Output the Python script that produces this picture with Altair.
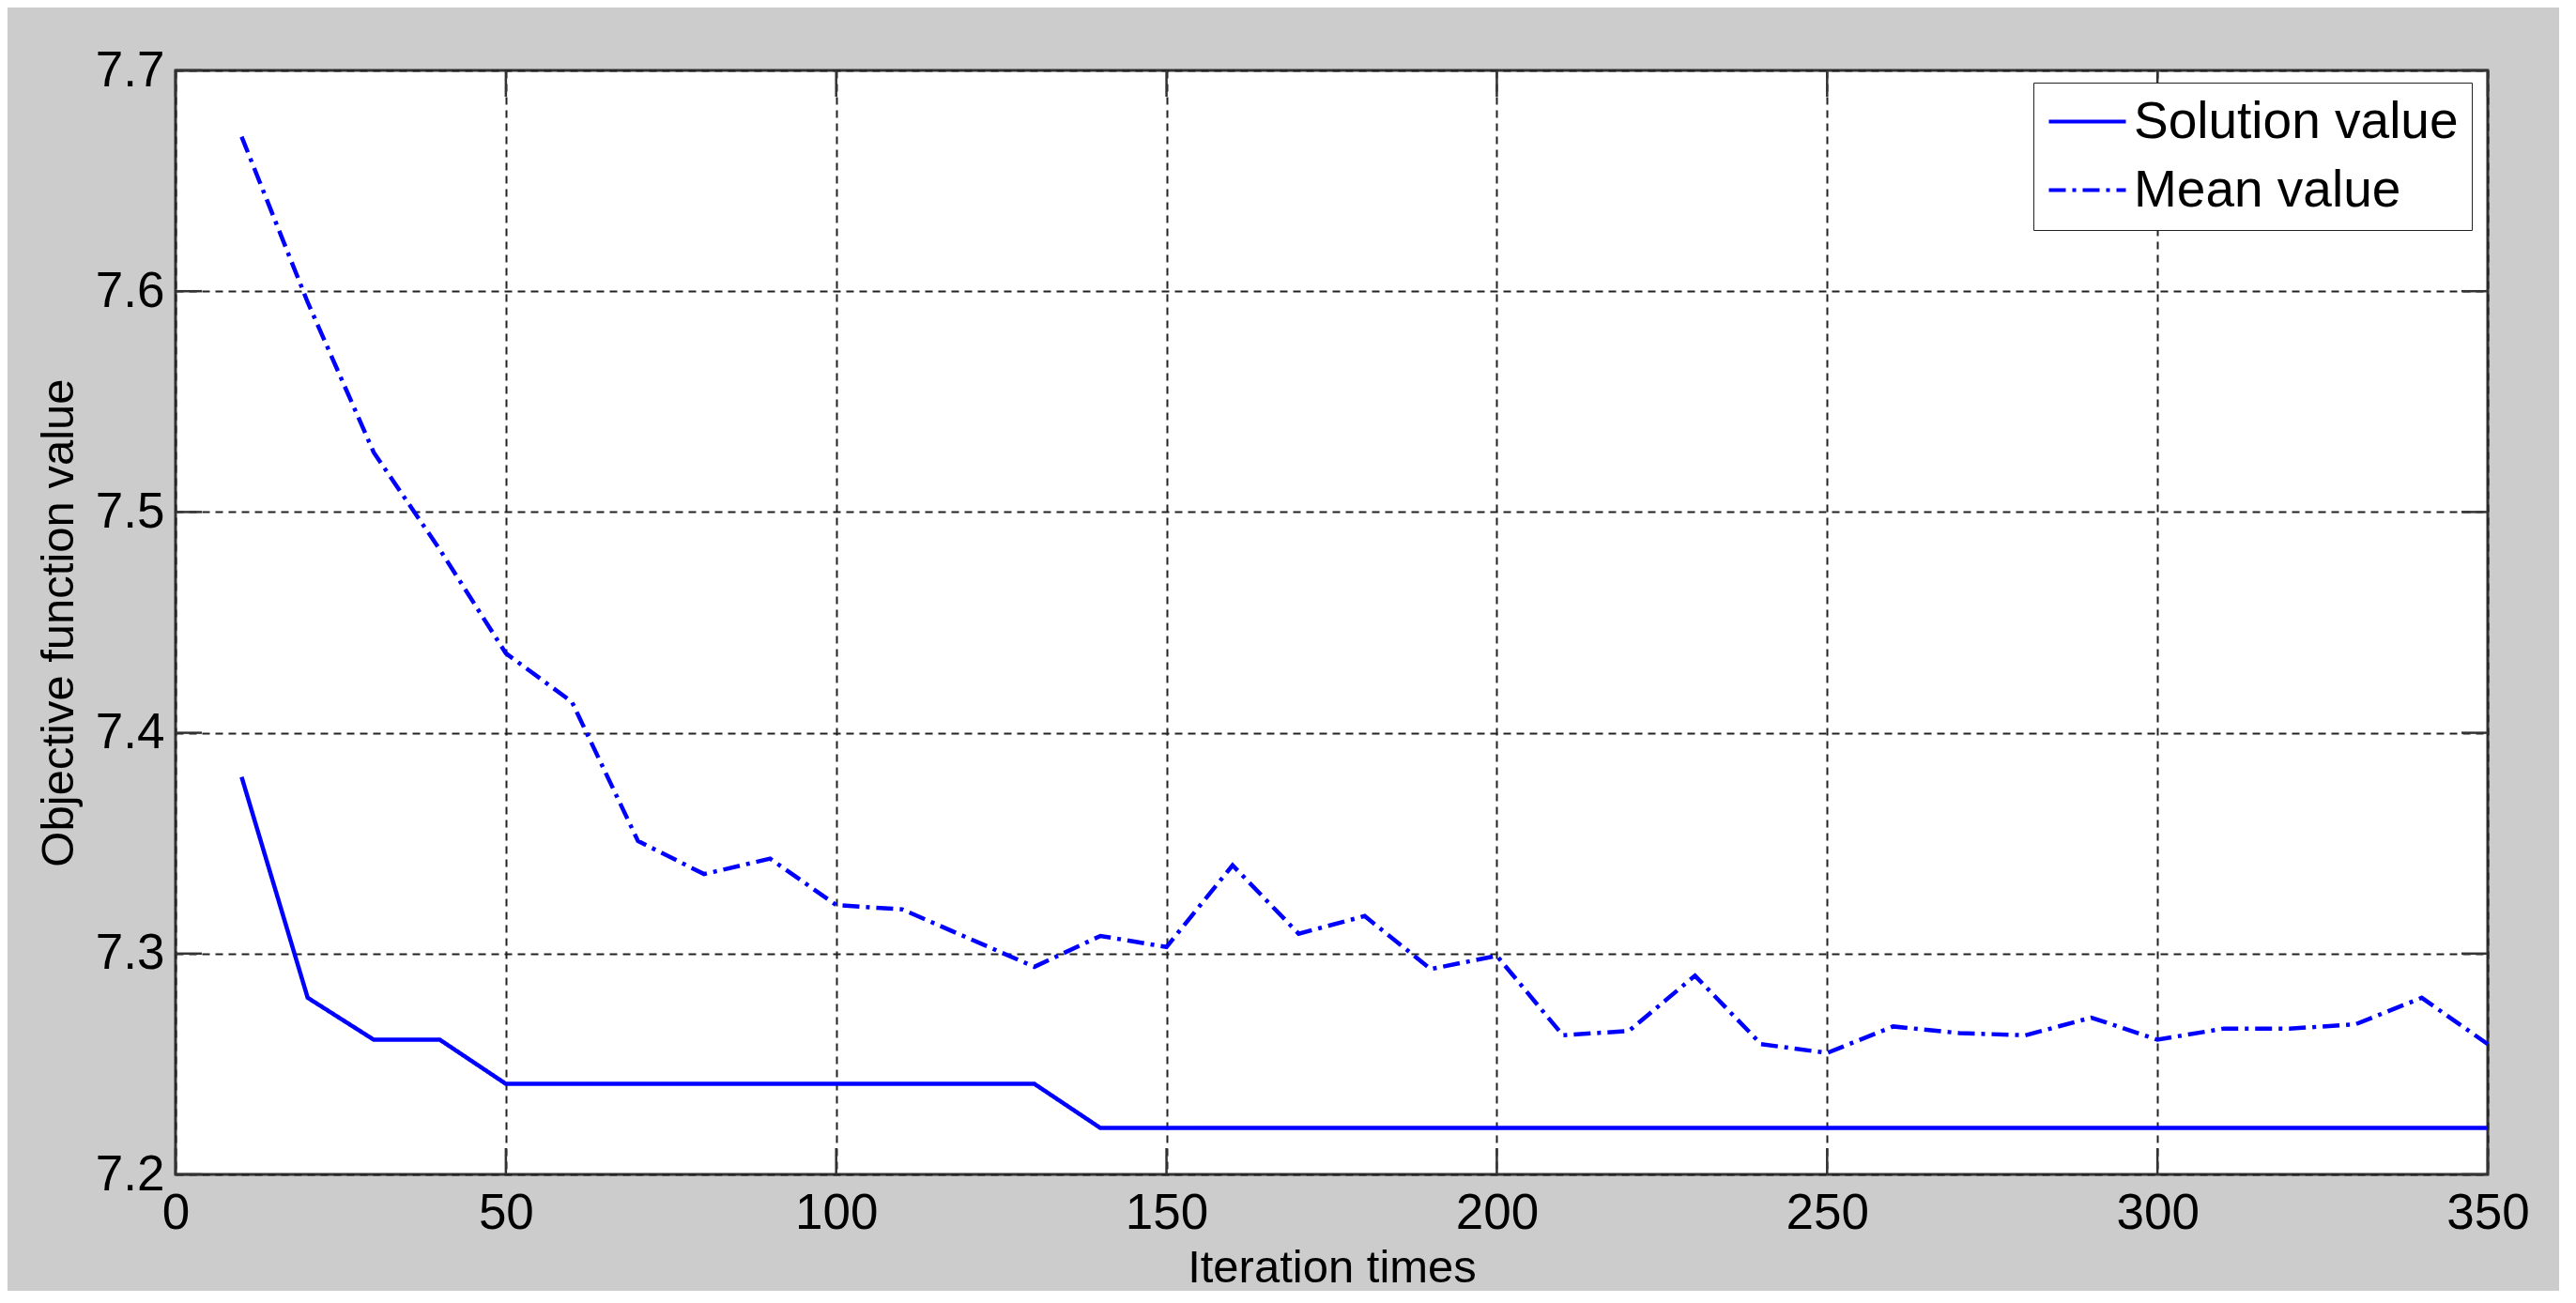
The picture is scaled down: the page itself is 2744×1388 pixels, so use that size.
import altair as alt
import pandas as pd

iterations = [10, 20, 30, 40, 50, 60, 70, 80, 90, 100, 110, 120, 130, 140, 150, 160, 170, 180,
              190, 200, 210, 220, 230, 240, 250, 260, 270, 280, 290, 300, 310, 320, 330, 340, 350]
solution_value = [7.380, 7.280, 7.261, 7.261, 7.241, 7.241, 7.241, 7.241, 7.241, 7.241, 7.241, 7.241,
                  7.241, 7.221, 7.221, 7.221, 7.221, 7.221, 7.221, 7.221, 7.221, 7.221, 7.221, 7.221,
                  7.221, 7.221, 7.221, 7.221, 7.221, 7.221, 7.221, 7.221, 7.221, 7.221, 7.221]
mean_value = [7.670, 7.595, 7.527, 7.483, 7.436, 7.414, 7.351, 7.336, 7.343, 7.322, 7.320, 7.307,
              7.294, 7.308, 7.303, 7.340, 7.309, 7.317, 7.293, 7.299, 7.263, 7.265, 7.290, 7.259,
              7.255, 7.267, 7.264, 7.263, 7.271, 7.261, 7.266, 7.266, 7.268, 7.280, 7.259]
series_names = ["Solution value", "Mean value"]
x_ticks = [0, 50, 100, 150, 200, 250, 300, 350]
y_ticks = [7.2, 7.3, 7.4, 7.5, 7.6, 7.7]

W, H = 2463, 1176
FONT = "Liberation Sans"
TICKLEN = 28

rows = []
for i, x in enumerate(iterations):
    rows.append({"x": x, "y": solution_value[i], "series": series_names[0]})
    rows.append({"x": x, "y": mean_value[i], "series": series_names[1]})
df = pd.DataFrame(rows)
xt = pd.DataFrame({"x": x_ticks})
yt = pd.DataFrame({"y": y_ticks})

xscale = alt.Scale(domain=[0, 350], nice=False, zero=False)
yscale = alt.Scale(domain=[7.2, 7.7], nice=False, zero=False)

xaxis = alt.Axis(values=x_ticks, title="Iteration times", grid=True, domain=False, ticks=False,
                 tickSize=0, labelPadding=15, labelFlush=False, labelOverlap=False,
                 labelBaseline="top", titleBaseline="alphabetic", titleY=114, format="d")
yaxis = alt.Axis(values=y_ticks, title="Objective function value", grid=True, domain=False,
                 ticks=False, tickSize=0, labelPadding=12, labelFlush=False, labelOverlap=False,
                 titleBaseline="alphabetic", titleX=-110, format=".1f")

X = alt.X("x:Q", scale=xscale, axis=xaxis)
Y = alt.Y("y:Q", scale=yscale, axis=yaxis)

lines = alt.Chart(df).mark_line(color="#0000FF", strokeWidth=4.5).encode(
    x=X,
    y=Y,
    strokeDash=alt.StrokeDash(
        "series:N",
        scale=alt.Scale(domain=series_names, range=[[1, 0], [18, 7, 4, 7]]),
        sort=series_names,
        legend=alt.Legend(
            title=None, orient="none", legendX=1979, legendY=13,
            fillColor="white", strokeColor="#222222", padding=14,
            symbolType="M-1.25,0H2.85", symbolSize=1600, symbolStrokeWidth=4,
            symbolStrokeColor="#0000FF", symbolFillColor="transparent",
            labelFont=FONT, labelFontSize=55,
            labelColor="black", labelOffset=38, rowPadding=17, labelLimit=800,
        ),
    ),
    detail="series:N",
)

tick_color = "#333333"
bottom_ticks = alt.Chart(xt).mark_rule(color=tick_color, strokeWidth=2.5).encode(
    x=X, y=alt.value(H), y2=alt.value(H - TICKLEN))
top_ticks = alt.Chart(xt).mark_rule(color=tick_color, strokeWidth=2.5).encode(
    x=X, y=alt.value(0), y2=alt.value(TICKLEN))
left_ticks = alt.Chart(yt).mark_rule(color=tick_color, strokeWidth=2.5).encode(
    y=Y, x=alt.value(0), x2=alt.value(TICKLEN))
right_ticks = alt.Chart(yt).mark_rule(color=tick_color, strokeWidth=2.5).encode(
    y=Y, x=alt.value(W - TICKLEN), x2=alt.value(W))

chart = alt.layer(bottom_ticks, top_ticks, left_ticks, right_ticks, lines).properties(
    width=W, height=H,
    autosize=alt.AutoSizeParams(type="none"),
    padding={"left": 179, "top": 67, "right": 76, "bottom": 124},
    background="#CCCCCC",
).configure_view(
    fill="white", stroke="#333333", strokeWidth=3,
).configure_axis(
    labelFont=FONT, labelFontSize=53, labelColor="black",
    titleFont=FONT, titleFontSize=49, titleFontWeight="normal", titleColor="black",
    gridColor="#222222", gridDash=[8, 6], gridWidth=2, gridOpacity=1,
)

chart.save("out.html", embed_options={"renderer": "svg", "actions": False})
